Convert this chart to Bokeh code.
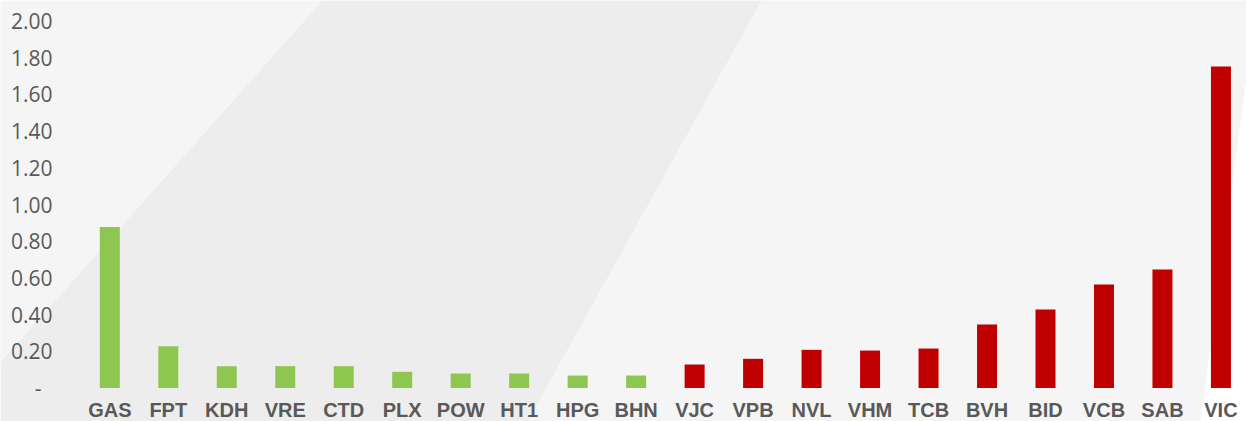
from bokeh.plotting import figure
from bokeh.models import (ColumnDataSource, Range1d, FixedTicker, NumeralTickFormatter,
                          PolyAnnotation)
from bokeh.transform import factor_cmap
from bokeh.embed import file_html
from bokeh.resources import INLINE

# ---- data ----
tickers = ["GAS", "FPT", "KDH", "VRE", "CTD", "PLX", "POW", "HT1", "HPG", "BHN",
           "VJC", "VPB", "NVL", "VHM", "TCB", "BVH", "BID", "VCB", "SAB", "VIC"]
values = [0.877, 0.228, 0.119, 0.119, 0.119, 0.088, 0.079, 0.079, 0.068, 0.068,
          0.128, 0.159, 0.208, 0.204, 0.215, 0.346, 0.428, 0.564, 0.646, 1.752]
groups = ["up", "up", "up", "up", "up", "up", "up", "up", "up", "up",
          "down", "down", "down", "down", "down", "down", "down", "down", "down", "down"]
y_ticks = [0, 0.2, 0.4, 0.6, 0.8, 1.0, 1.2, 1.4, 1.6, 1.8, 2.0]
zero_label = "-"

# ---- styling ----
GREEN = "#8DC750"
RED = "#C00000"
BG = "#F5F5F5"
BAND = "#EDEDED"
TEXT = "#595959"

idx = list(range(len(tickers)))
src = ColumnDataSource(dict(x=idx, top=values, ticker=tickers, group=groups))

# frame covers the whole canvas; axes are drawn at fixed locations inside it
p = figure(width=1246, height=421, output_backend="svg", toolbar_location=None,
           x_range=Range1d(-1.869, 19.437), y_range=Range1d(-0.1826, 2.112),
           min_border_left=0, min_border_right=0, min_border_top=0, min_border_bottom=0)

p.background_fill_color = BG
p.border_fill_color = BG
p.outline_line_color = None
p.xgrid.visible = False
p.ygrid.visible = False

# decorative background shapes (canvas units)
band = PolyAnnotation(xs=[322, 761, 527, 0, 0], ys=[0, 0, 421, 421, 362],
                      xs_units="canvas", ys_units="canvas",
                      fill_color=BAND, fill_alpha=1.0, line_alpha=0, level="underlay")
white = PolyAnnotation(xs=[1246, 1200, 1246], ys=[78, 421, 421],
                       xs_units="canvas", ys_units="canvas",
                       fill_color="#FFFFFF", fill_alpha=1.0, line_alpha=0, level="underlay")
p.add_layout(band)
p.add_layout(white)

p.vbar(x="x", top="top", bottom=0, width=0.342, source=src,
       fill_color=factor_cmap("group", [GREEN, RED], ["up", "down"]),
       line_color=None)

# y axis
p.yaxis.fixed_location = -0.877
p.yaxis.ticker = FixedTicker(ticks=y_ticks)
p.yaxis.formatter = NumeralTickFormatter(format="0.00")
p.yaxis.major_label_overrides = {0: zero_label + "\u00a0\u00a0"}
p.yaxis.axis_line_color = None
p.yaxis.major_tick_line_color = None
p.yaxis.minor_tick_line_color = None
p.yaxis.major_tick_out = 0
p.yaxis.major_tick_in = 0
p.yaxis.major_label_standoff = 6
p.yaxis.major_label_text_font = "Open Sans"
p.yaxis.major_label_text_font_size = "21px"
p.yaxis.major_label_text_color = TEXT

# x axis
p.xaxis.fixed_location = 0
p.xaxis.ticker = FixedTicker(ticks=idx)
p.xaxis.major_label_overrides = {i: t for i, t in zip(idx, tickers)}
p.xaxis.axis_line_color = None
p.xaxis.major_tick_line_color = None
p.xaxis.minor_tick_line_color = None
p.xaxis.major_tick_out = 0
p.xaxis.major_tick_in = 0
p.xaxis.major_label_standoff = 11
p.xaxis.major_label_text_font = "Liberation Sans"
p.xaxis.major_label_text_font_style = "bold"
p.xaxis.major_label_text_font_size = "20px"
p.xaxis.major_label_text_color = TEXT

open("out.html", "w").write(file_html(p, INLINE))
